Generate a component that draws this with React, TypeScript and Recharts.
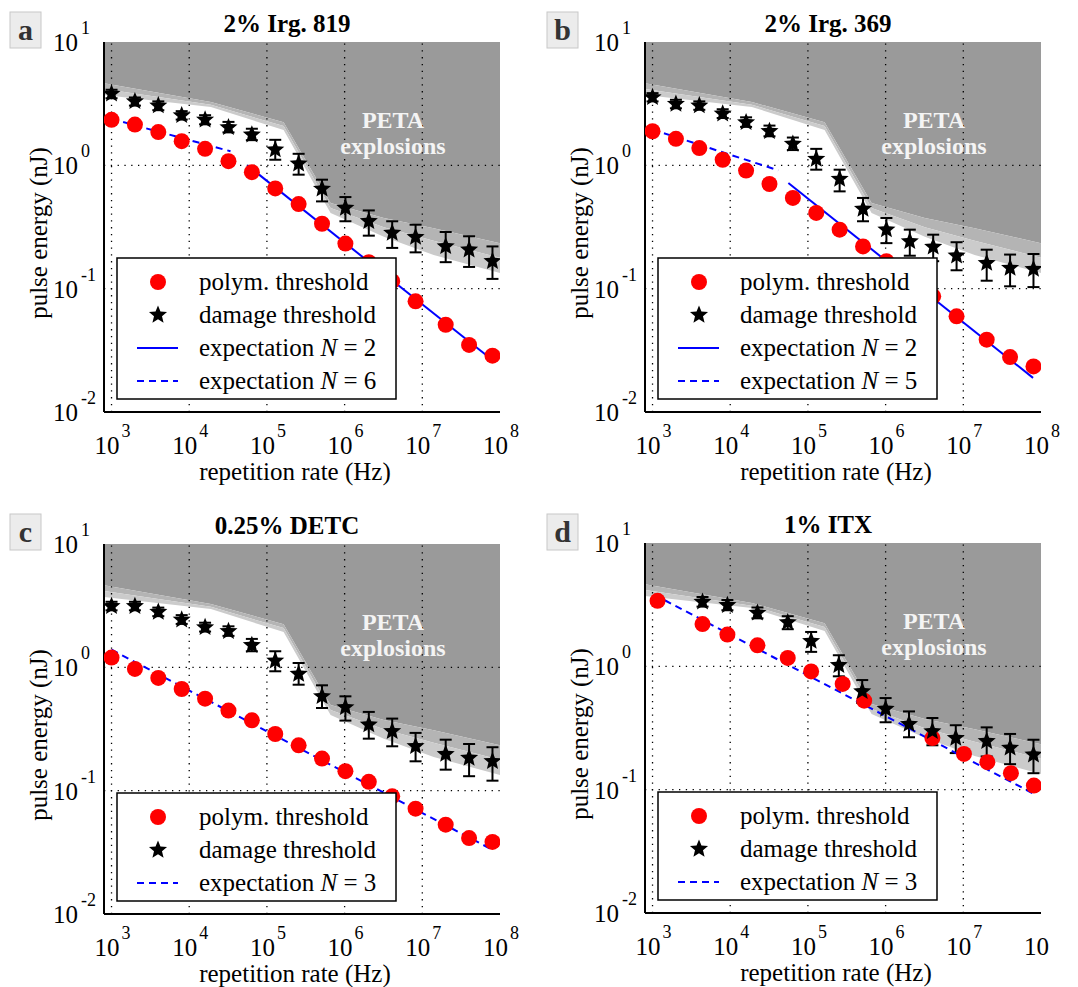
import React from 'react';
import { ComposedChart, Area, Line, Scatter, XAxis, YAxis, ErrorBar, ReferenceLine } from 'recharts';

const FONT = "'Liberation Serif', 'Times New Roman', serif";

// ---------- axes ----------
const xDomain = [800, 1e8];
const yDomain = [0.01, 10];
const xTicks = [1e3, 1e4, 1e5, 1e6, 1e7, 1e8];
const yTicks = [0.01, 0.1, 1, 10];
const xGrid = [1e3, 1e4, 1e5, 1e6, 1e7];
const yGrid = [0.1, 1];
const xMinorTicks = [
  900, 1000, 2000, 3000, 4000, 5000, 6000, 7000, 8000, 9000,
  1e4, 2e4, 3e4, 4e4, 5e4, 6e4, 7e4, 8e4, 9e4,
  1e5, 2e5, 3e5, 4e5, 5e5, 6e5, 7e5, 8e5, 9e5,
  1e6, 2e6, 3e6, 4e6, 5e6, 6e6, 7e6, 8e6, 9e6,
  1e7, 2e7, 3e7, 4e7, 5e7, 6e7, 7e7, 8e7, 9e7,
];
const yMinorTicks = [
  0.02, 0.03, 0.04, 0.05, 0.06, 0.07, 0.08, 0.09,
  0.1, 0.2, 0.3, 0.4, 0.5, 0.6, 0.7, 0.8, 0.9,
  1, 2, 3, 4, 5, 6, 7, 8, 9,
];

// ---------- PETA explosion zone (shared) ----------
const zoneRate = [800, 1.9e4, 1.64e5, 6.6e5, 3.2e6, 1.4e7, 1e8];
const zoneDark = [4.64, 3.26, 2.24, 0.494, 0.374, 0.309, 0.234];
const zoneMid = [4.15, 3.1, 2.08, 0.45, 0.315, 0.245, 0.178];
const zoneLight = [3.72, 2.97, 1.93, 0.41, 0.263, 0.1875, 0.134];

// ---------- repetition rates ----------
const ratesABC = [1e3, 2e3, 4e3, 8e3, 1.6e4, 3.2e4, 6.4e4, 1.28e5, 2.56e5, 5.12e5, 1.024e6, 2.048e6, 4.096e6, 8.192e6, 2e7, 4e7, 8e7];

// ---------- panel a: 2% Irg. 819 ----------
const polymA = [2.34, 2.14, 1.86, 1.57, 1.36, 1.08, 0.88, 0.65, 0.485, 0.336, 0.232, 0.164, 0.115, 0.079, 0.051, 0.035, 0.0286];
const damageA = [3.8, 3.3, 3.05, 2.54, 2.34, 2.03, 1.77, 1.34, 1.03, 0.645, 0.451, 0.352, 0.283, 0.262, 0.22, 0.207, 0.167];
const damageAHi = [4.1, 3.55, 3.3, 2.75, 2.55, 2.25, 1.98, 1.61, 1.24, 0.765, 0.553, 0.431, 0.352, 0.33, 0.288, 0.266, 0.22];
const damageALo = [3.5, 3.05, 2.8, 2.35, 2.15, 1.85, 1.6, 1.11, 0.84, 0.51, 0.352, 0.269, 0.214, 0.197, 0.164, 0.15, 0.12];
const expA2X = [5.6e4, 7.9e7];
const expA2Y = [1.0, 0.0265];
const expA6X = [1e3, 3.4e4];
const expA6Y = [2.38, 1.3];

// ---------- panel b: 2% Irg. 369 ----------
const polymB = [1.89, 1.64, 1.38, 1.11, 0.906, 0.706, 0.544, 0.411, 0.301, 0.22, 0.167, 0.122, 0.0867, 0.0597, 0.0386, 0.0279, 0.0234];
const damageB = [3.56, 3.14, 3.05, 2.62, 2.23, 1.89, 1.49, 1.125, 0.774, 0.443, 0.301, 0.242, 0.218, 0.185, 0.161, 0.147, 0.144];
const damageBHi = [3.85, 3.4, 3.3, 2.85, 2.45, 2.1, 1.68, 1.36, 0.922, 0.544, 0.374, 0.301, 0.274, 0.238, 0.207, 0.189, 0.191];
const damageBLo = [3.3, 2.9, 2.82, 2.42, 2.05, 1.72, 1.33, 0.922, 0.615, 0.352, 0.234, 0.185, 0.167, 0.141, 0.116, 0.1045, 0.103];
const expB2X = [5.6e4, 7.9e7];
const expB2Y = [0.72, 0.0189];
const expB5X = [1e3, 4.15e4];
const expB5Y = [1.95, 0.912];

// ---------- panel c: 0.25% DETC ----------
const polymC = [1.2, 0.97, 0.82, 0.667, 0.557, 0.446, 0.372, 0.288, 0.233, 0.182, 0.144, 0.118, 0.09, 0.0714, 0.053, 0.0413, 0.0384];
const damageC = [3.13, 3.13, 2.81, 2.43, 2.11, 1.96, 1.51, 1.13, 0.883, 0.582, 0.474, 0.343, 0.303, 0.229, 0.198, 0.184, 0.173];
const damageCHi = [3.4, 3.4, 3.05, 2.65, 2.3, 2.15, 1.7, 1.35, 1.084, 0.715, 0.582, 0.435, 0.384, 0.294, 0.259, 0.239, 0.225];
const damageCLo = [2.9, 2.9, 2.6, 2.25, 1.95, 1.8, 1.35, 0.929, 0.723, 0.468, 0.37, 0.264, 0.229, 0.173, 0.148, 0.131, 0.1205];
const expC3X = [1e3, 7.9e7];
const expC3Y = [1.39, 0.0333];

// ---------- panel d: 1% ITX ----------
const polymDX = [1.16e3, 4.4e3, 9.2e3, 2.24e4, 5.5e4, 1.1e5, 2.8e5, 5.3e5, 4e6, 1.02e7, 2.04e7, 4.1e7, 8.1e7];
const polymD = [3.4, 2.2, 1.81, 1.48, 1.17, 0.91, 0.72, 0.527, 0.262, 0.195, 0.167, 0.136, 0.108];
const damageDX = [4.4e3, 9.2e3, 2.24e4, 5.5e4, 1.1e5, 2.5e5, 5e5, 1e6, 2e6, 4e6, 8e6, 2e7, 4e7, 8e7];
const damageD = [3.33, 3.13, 2.71, 2.27, 1.6, 1.02, 0.627, 0.451, 0.34, 0.297, 0.262, 0.247, 0.218, 0.192];
const damageDHi = [3.65, 3.45, 3.0, 2.55, 1.9, 1.23, 0.774, 0.553, 0.431, 0.381, 0.333, 0.32, 0.283, 0.254];
const damageDLo = [3.05, 2.85, 2.45, 2.0, 1.31, 0.83, 0.505, 0.352, 0.266, 0.229, 0.198, 0.186, 0.161, 0.136];
const expD3X = [1.05e3, 8.5e7];
const expD3Y = [3.81, 0.091];

// ---------- layout ----------
const ML = 104;
const MT = 42;
const PW = 396;
const PH = 370;
const XH = 60;

const zoneRows = zoneRate.map((x, i) => ({
  x,
  dark: [zoneDark[i], 10],
  mid: [zoneMid[i], zoneDark[i]],
  light: [zoneLight[i], zoneMid[i]],
}));

const pts = (xs: number[], ys: number[]) => xs.map((x, i) => ({ x, y: ys[i] }));
const errPts = (xs: number[], ys: number[], hi: number[], lo: number[]) =>
  xs.map((x, i) => ({ x, y: ys[i], err: [ys[i] - lo[i], hi[i] - ys[i]] }));

type LegendEntry = { kind: 'circle' | 'star' | 'solid' | 'dashed'; label: string; n?: string };

const panels = [
  {
    letter: 'a', title: '2% Irg. 819', plotLeft: 104, plotTop: 42, chartWidth: 536,
    polym: pts(ratesABC, polymA), damage: errPts(ratesABC, damageA, damageAHi, damageALo),
    lines: [{ data: pts(expA2X, expA2Y), dashed: false }, { data: pts(expA6X, expA6Y), dashed: true }],
    legend: [
      { kind: 'circle', label: 'polym. threshold' },
      { kind: 'star', label: 'damage threshold' },
      { kind: 'solid', label: 'expectation ', n: '2' },
      { kind: 'dashed', label: 'expectation ', n: '6' },
    ] as LegendEntry[],
    letterX: 10, letterY: 12,
  },
  {
    letter: 'b', title: '2% Irg. 369', plotLeft: 645, plotTop: 42, chartWidth: 536,
    polym: pts(ratesABC, polymB), damage: errPts(ratesABC, damageB, damageBHi, damageBLo),
    lines: [{ data: pts(expB2X, expB2Y), dashed: false }, { data: pts(expB5X, expB5Y), dashed: true }],
    legend: [
      { kind: 'circle', label: 'polym. threshold' },
      { kind: 'star', label: 'damage threshold' },
      { kind: 'solid', label: 'expectation ', n: '2' },
      { kind: 'dashed', label: 'expectation ', n: '5' },
    ] as LegendEntry[],
    letterX: 547, letterY: 12,
  },
  {
    letter: 'c', title: '0.25% DETC', plotLeft: 104, plotTop: 544, chartWidth: 536,
    polym: pts(ratesABC, polymC), damage: errPts(ratesABC, damageC, damageCHi, damageCLo),
    lines: [{ data: pts(expC3X, expC3Y), dashed: true }],
    legend: [
      { kind: 'circle', label: 'polym. threshold' },
      { kind: 'star', label: 'damage threshold' },
      { kind: 'dashed', label: 'expectation ', n: '3' },
    ] as LegendEntry[],
    letterX: 10, letterY: 514,
  },
  {
    letter: 'd', title: '1% ITX', plotLeft: 645, plotTop: 543, chartWidth: 508,
    polym: pts(polymDX, polymD), damage: errPts(damageDX, damageD, damageDHi, damageDLo),
    lines: [{ data: pts(expD3X, expD3Y), dashed: true }],
    legend: [
      { kind: 'circle', label: 'polym. threshold' },
      { kind: 'star', label: 'damage threshold' },
      { kind: 'dashed', label: 'expectation ', n: '3' },
    ] as LegendEntry[],
    letterX: 547, letterY: 514,
  },
];

// ---------- shapes ----------
function starPoints(cx: number, cy: number, R: number, r: number) {
  const p: string[] = [];
  for (let k = 0; k < 10; k++) {
    const a = -Math.PI / 2 + (k * Math.PI) / 5;
    const rad = k % 2 === 0 ? R : r;
    p.push(`${cx + rad * Math.cos(a)},${cy + rad * Math.sin(a)}`);
  }
  return p.join(' ');
}

const CircleShape = (props: any) => <circle cx={props.cx} cy={props.cy} r={8} fill="#ff0000" />;
const StarShape = (props: any) => <polygon points={starPoints(props.cx, props.cy, 9.5, 4.2)} fill="#000" />;

function XTick(props: any) {
  const { x, y, payload } = props;
  const e = Math.round(Math.log10(payload.value));
  return (
    <text x={x - 17} y={y + 42} textAnchor="start" fontFamily={FONT} fontSize={25} fill="#000">
      10<tspan dx={2} dy={-17} fontSize={18}>{String(e)}</tspan>
    </text>
  );
}

function YTick(props: any) {
  const { x, y, payload } = props;
  const e = Math.round(Math.log10(payload.value));
  return (
    <text x={x - 51} y={y + 9} textAnchor="start" fontFamily={FONT} fontSize={25} fill="#000">
      10<tspan dx={3} dy={-17} fontSize={18}>{e < 0 ? '-' + String(-e) : String(e)}</tspan>
    </text>
  );
}

const frame = { stroke: '#000', strokeWidth: 2 };
const minorTickLine = { stroke: '#000', strokeWidth: 1 };

function Panel({ p }: { p: (typeof panels)[number] }) {
  const right = p.chartWidth - ML - PW;
  return (
    <div style={{ position: 'absolute', left: p.plotLeft - ML, top: p.plotTop - MT }}>
      <ComposedChart
        width={p.chartWidth}
        height={MT + PH + XH}
        data={zoneRows}
        margin={{ top: MT, right, bottom: 0, left: 0 }}
      >
        <XAxis dataKey="x" type="number" scale="log" domain={xDomain} allowDataOverflow ticks={xTicks}
          interval={0} tick={<XTick />} tickLine={false} tickSize={0} tickMargin={0} axisLine={frame} height={XH} />
        <YAxis dataKey="y" type="number" scale="log" domain={yDomain} allowDataOverflow ticks={yTicks}
          interval={0} tick={<YTick />} tickLine={false} tickSize={0} tickMargin={0} axisLine={frame} width={ML} />
        <XAxis xAxisId="xb" type="number" scale="log" domain={xDomain} allowDataOverflow ticks={xMinorTicks}
          interval={0} mirror orientation="bottom" tick={false} tickSize={5} tickLine={minorTickLine} axisLine={frame} height={0} />
        <XAxis xAxisId="xt" type="number" scale="log" domain={xDomain} allowDataOverflow ticks={xMinorTicks}
          interval={0} mirror orientation="top" tick={false} tickSize={5} tickLine={minorTickLine} axisLine={frame} height={0} />
        <YAxis yAxisId="yl" type="number" scale="log" domain={yDomain} allowDataOverflow ticks={yMinorTicks}
          interval={0} mirror orientation="left" tick={false} tickSize={5} tickLine={minorTickLine} axisLine={frame} width={0} />
        <YAxis yAxisId="yr" type="number" scale="log" domain={yDomain} allowDataOverflow ticks={yMinorTicks}
          interval={0} mirror orientation="right" tick={false} tickSize={5} tickLine={minorTickLine} axisLine={frame} width={0} />

        <Area dataKey="dark" type="linear" fill="#9a9a9a" fillOpacity={1} stroke="none" isAnimationActive={false} activeDot={false} />
        <Area dataKey="mid" type="linear" fill="#b4b4b4" fillOpacity={1} stroke="none" isAnimationActive={false} activeDot={false} />
        <Area dataKey="light" type="linear" fill="#cbcbcb" fillOpacity={1} stroke="none" isAnimationActive={false} activeDot={false} />

        {xGrid.map((v) => (
          <ReferenceLine key={'gx' + v} x={v} stroke="#000" strokeWidth={1.3} strokeDasharray="1.3 5.5" />
        ))}
        {yGrid.map((v) => (
          <ReferenceLine key={'gy' + v} y={v} stroke="#000" strokeWidth={1.3} strokeDasharray="1.3 5.5" />
        ))}

        <Scatter data={p.polym} shape={CircleShape} isAnimationActive={false} />
        <Scatter data={p.damage} shape={StarShape} isAnimationActive={false}>
          <ErrorBar dataKey="err" direction="y" width={6} stroke="#000" strokeWidth={2} />
        </Scatter>
        {p.lines.map((l, i) => (
          <Line key={'l' + i} data={l.data} dataKey="y" type="linear" stroke="#0000ff" strokeWidth={2}
            strokeDasharray={l.dashed ? '7 5' : undefined} dot={false} activeDot={false} isAnimationActive={false} />
        ))}
      </ComposedChart>
    </div>
  );
}

function LegendMarker({ kind, cx, cy }: { kind: string; cx: number; cy: number }) {
  if (kind === 'circle') return <circle cx={cx} cy={cy} r={8} fill="#ff0000" />;
  if (kind === 'star') return <polygon points={starPoints(cx, cy, 9.5, 4.2)} fill="#000" />;
  return (
    <line x1={cx - 21} x2={cx + 20} y1={cy} y2={cy} stroke="#0000ff" strokeWidth={2}
      strokeDasharray={kind === 'dashed' ? '7 5' : undefined} />
  );
}

function Overlay() {
  return (
    <svg width={1078} height={987} style={{ position: 'absolute', left: 0, top: 0, pointerEvents: 'none' }}>
      {panels.map((p) => {
        const n = p.legend.length;
        const lh = 24 + 33 * (n - 1) + 18;
        const lx = p.plotLeft + 13;
        const ly = p.plotTop + PH - 13 - lh;
        return (
          <g key={p.letter} fontFamily={FONT}>
            <rect x={p.letterX} y={p.letterY} width={31} height={36} fill="#ececec" stroke="#c8c8c8" strokeWidth={1} />
            <text x={p.letterX + 15.5} y={p.letterY + 28} textAnchor="middle" fontSize={30} fontWeight="bold" fill="#333">{p.letter}</text>
            <text x={p.plotLeft + 183} y={p.plotTop - 10} textAnchor="middle" fontSize={25} fontWeight="bold" fill="#000">{p.title}</text>
            <text x={p.plotLeft + 289} y={p.plotTop + 86} textAnchor="middle" fontSize={24} fontWeight="bold" fill="#f4f4f4">PETA</text>
            <text x={p.plotLeft + 289} y={p.plotTop + 112} textAnchor="middle" fontSize={24} fontWeight="bold" fill="#f4f4f4">explosions</text>
            <text x={p.plotLeft + 191} y={p.plotTop + PH + 68} textAnchor="middle" fontSize={25} fill="#000">repetition rate (Hz)</text>
            <text transform={`translate(${p.plotLeft - 57}, ${p.plotTop + 191}) rotate(-90)`} textAnchor="middle" fontSize={25} fill="#000">pulse energy (nJ)</text>
            <rect x={lx} y={ly} width={279} height={lh} fill="#fff" stroke="#000" strokeWidth={1.5} />
            {p.legend.map((e, i) => {
              const cy = ly + 24 + 33 * i;
              return (
                <g key={i}>
                  <LegendMarker kind={e.kind} cx={lx + 41} cy={cy} />
                  <text x={lx + 82} y={cy + 8} fontSize={25} fill="#000">
                    {e.label}
                    {e.n !== undefined && (
                      <>
                        <tspan fontStyle="italic">N</tspan>
                        <tspan>{' = ' + e.n}</tspan>
                      </>
                    )}
                  </text>
                </g>
              );
            })}
          </g>
        );
      })}
    </svg>
  );
}

export default function App() {
  return (
    <div style={{ position: 'absolute', left: 0, top: 0, width: 1078, height: 987, background: '#fff', overflow: 'hidden' }}>
      {panels.map((p) => (
        <Panel key={p.letter} p={p} />
      ))}
      <Overlay />
    </div>
  );
}
